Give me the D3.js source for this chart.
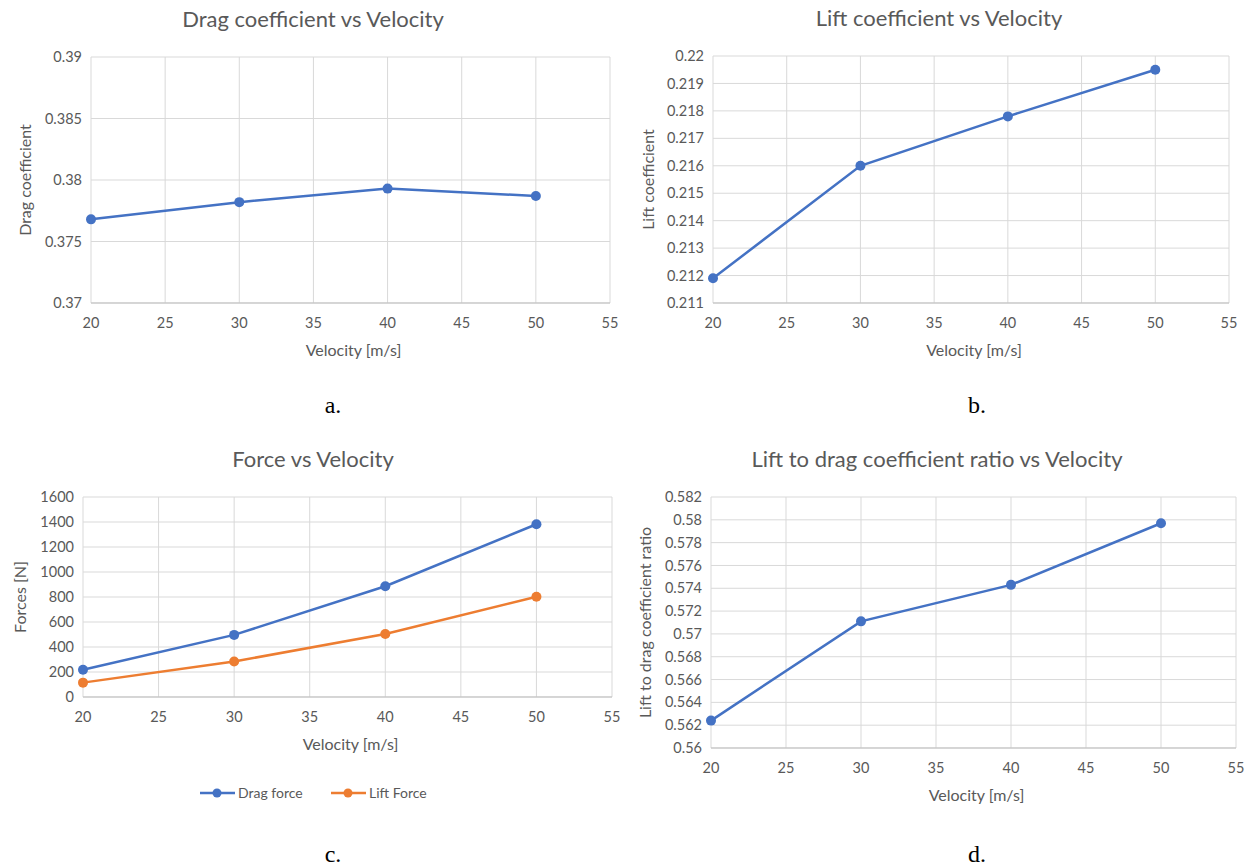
<!DOCTYPE html>
<head>
  <meta charset="utf8">
  <title>Velocity charts</title>
  <script src="https://d3js.org/d3.v7.min.js"></script>
  <style>
    body { margin: 0; background: #fff; }
    text { font-family: Lato, "Open Sans", sans-serif; fill: #595959; }
    .caption { font-family: "Liberation Serif", "DejaVu Serif", serif; fill: #000; }
  </style>
</head>
<body>
<script>

// values
var velocity = [20, 30, 40, 50];
var xTicks = [20, 25, 30, 35, 40, 45, 50, 55];

var dragCoef = [0.3768, 0.3782, 0.3793, 0.3787];
var dragCoefTicks = [0.37, 0.375, 0.38, 0.385, 0.39];

var liftCoef = [0.2119, 0.2160, 0.2178, 0.2195];
var liftCoefTicks = [0.211, 0.212, 0.213, 0.214, 0.215, 0.216, 0.217, 0.218, 0.219, 0.22];

var dragForce = [218, 497, 886, 1382];
var liftForce = [115, 284, 504, 802];
var forceTicks = [0, 200, 400, 600, 800, 1000, 1200, 1400, 1600];

var ratio = [0.5624, 0.5711, 0.5743, 0.5797];
var ratioTicks = [0.56, 0.562, 0.564, 0.566, 0.568, 0.57, 0.572, 0.574, 0.576, 0.578, 0.58, 0.582];

var blue = "#4472c4", orange = "#ed7d31";

var svg = d3.select("body").append("svg")
  .attr("width", 1254).attr("height", 867);

function fmt(d) { return String(+d.toFixed(4)); }

function panel(p) {
  var x = d3.scaleLinear().domain([20, 55]).range([p.left, p.right]);
  var y = d3.scaleLinear().domain([p.yTicks[0], p.yTicks[p.yTicks.length - 1]])
            .range([p.bottom, p.top]);
  var g = svg.append("g");

  // grid
  g.selectAll(".hg").data(p.yTicks).enter().append("line")
    .attr("x1", p.left).attr("x2", p.right)
    .attr("y1", function(d) { return y(d); }).attr("y2", function(d) { return y(d); })
    .attr("stroke", "#d9d9d9").attr("stroke-width", 1);
  g.selectAll(".vg").data(xTicks).enter().append("line")
    .attr("y1", p.top).attr("y2", p.bottom)
    .attr("x1", function(d) { return x(d); }).attr("x2", function(d) { return x(d); })
    .attr("stroke", "#d9d9d9").attr("stroke-width", 1);
  g.append("line").attr("x1", p.left).attr("x2", p.right)
    .attr("y1", p.bottom).attr("y2", p.bottom)
    .attr("stroke", "#bfbfbf").attr("stroke-width", 1);

  // tick labels
  g.selectAll(".yl").data(p.yTicks).enter().append("text")
    .attr("x", p.left - 9).attr("y", function(d) { return y(d); })
    .attr("dy", "0.35em").attr("text-anchor", "end")
    .style("font-size", "14.5px").text(fmt);
  g.selectAll(".xl").data(xTicks).enter().append("text")
    .attr("x", function(d) { return x(d); }).attr("y", p.bottom + 20)
    .attr("dy", "0.35em").attr("text-anchor", "middle")
    .style("font-size", "14.5px").text(function(d) { return d; });

  // titles
  g.append("text").attr("x", p.titleX).attr("y", p.top - 30)
    .attr("text-anchor", "middle").style("font-size", "22px").text(p.title);
  g.append("text").attr("x", (p.left + p.right) / 2 + 3).attr("y", p.bottom + 47)
    .attr("dy", "0.35em").attr("text-anchor", "middle")
    .style("font-size", "16px").text("Velocity [m/s]");
  g.append("text")
    .attr("transform", "translate(" + p.yTitleX + "," + (p.top + p.bottom) / 2 + ") rotate(-90)")
    .attr("dy", "0.35em").attr("text-anchor", "middle")
    .style("font-size", "16px").text(p.yTitle);

  var line = d3.line()
    .x(function(d, i) { return x(velocity[i]); })
    .y(function(d) { return y(d); });

  p.series.forEach(function(s) {
    g.append("path").datum(s.values)
      .attr("fill", "none").attr("stroke", s.color)
      .attr("stroke-width", 2.5).attr("d", line);
    g.selectAll(null).data(s.values).enter().append("circle")
      .attr("cx", function(d, i) { return x(velocity[i]); })
      .attr("cy", function(d) { return y(d); })
      .attr("r", 5).attr("fill", s.color);
  });

  svg.append("text").attr("class", "caption")
    .attr("x", p.captionX).attr("y", p.captionY)
    .attr("text-anchor", "middle").style("font-size", "24px").text(p.caption);
}

panel({
  left: 91, right: 610, top: 57, bottom: 303, titleX: 313,
  title: "Drag coefficient vs Velocity", yTitle: "Drag coefficient", yTitleX: 25,
  yTicks: dragCoefTicks, series: [{ values: dragCoef, color: blue }],
  caption: "a.", captionX: 333, captionY: 413
});

panel({
  left: 713, right: 1229, top: 56, bottom: 303, titleX: 939,
  title: "Lift coefficient vs Velocity", yTitle: "Lift coefficient", yTitleX: 648,
  yTicks: liftCoefTicks, series: [{ values: liftCoef, color: blue }],
  caption: "b.", captionX: 977, captionY: 413
});

panel({
  left: 83, right: 612, top: 497, bottom: 697, titleX: 313,
  title: "Force vs Velocity", yTitle: "Forces [N]", yTitleX: 20,
  yTicks: forceTicks,
  series: [{ values: dragForce, color: blue }, { values: liftForce, color: orange }],
  caption: "c.", captionX: 333, captionY: 862
});

panel({
  left: 711, right: 1236, top: 497, bottom: 748, titleX: 937,
  title: "Lift to drag coefficient ratio vs Velocity", yTitle: "Lift to drag coefficient ratio", yTitleX: 645,
  yTicks: ratioTicks, series: [{ values: ratio, color: blue }],
  caption: "d.", captionX: 977, captionY: 862
});

// legend for the force chart
var legendItems = [
  { name: "Drag force", color: blue, x: 200 },
  { name: "Lift Force", color: orange, x: 331 }
];
var lg = svg.append("g");
legendItems.forEach(function(it) {
  lg.append("line").attr("x1", it.x).attr("x2", it.x + 35)
    .attr("y1", 793).attr("y2", 793)
    .attr("stroke", it.color).attr("stroke-width", 2.5);
  lg.append("circle").attr("cx", it.x + 17).attr("cy", 793).attr("r", 4.5).attr("fill", it.color);
  lg.append("text").attr("x", it.x + 38).attr("y", 793).attr("dy", "0.35em")
    .style("font-size", "14px").text(it.name);
});

</script>
</body>
